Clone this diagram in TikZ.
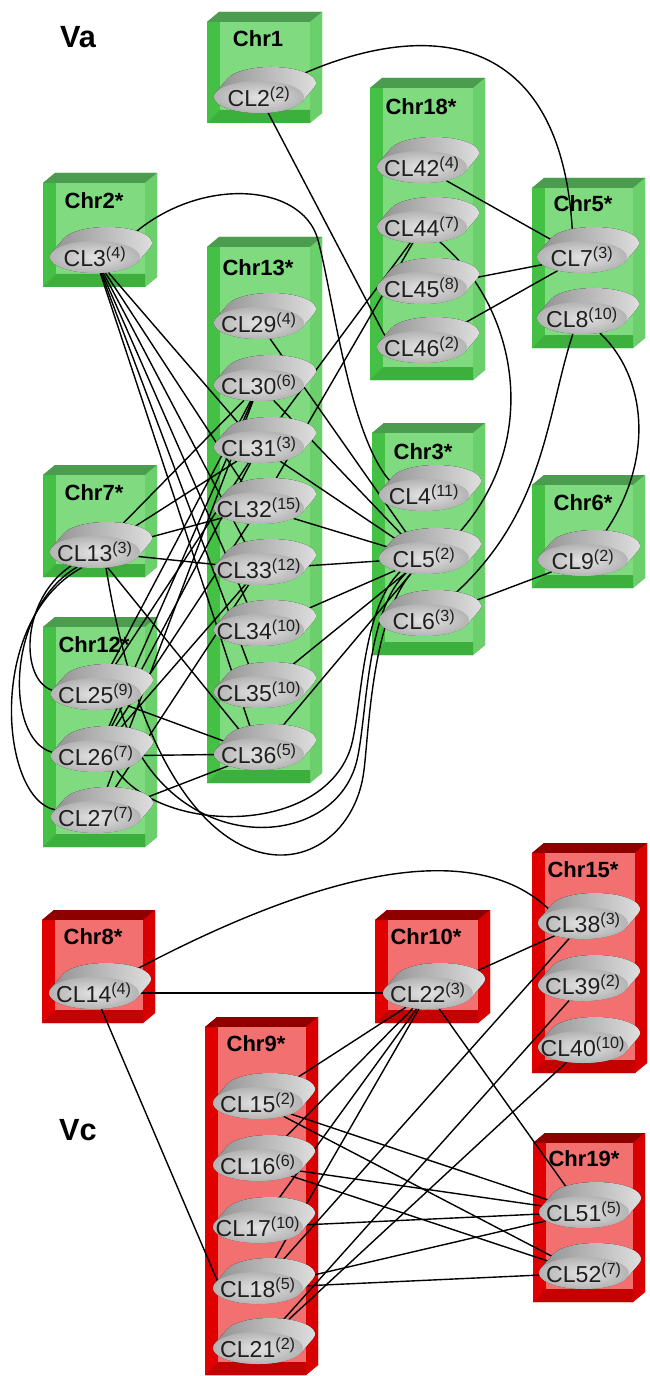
\documentclass[tikz,border=0pt]{standalone}
\usepackage{fontspec}
\setmainfont{Liberation Sans}
\usetikzlibrary{shapes.geometric}
\pgfdeclarelayer{bg}
\pgfdeclarelayer{edges}
\pgfsetlayers{bg,edges,main}
\definecolor{gOut}{HTML}{44C144}
\definecolor{gTop}{HTML}{4C9C50}
\definecolor{gRight}{HTML}{6BCF6B}
\definecolor{gPanel}{HTML}{80DA80}
\definecolor{gBot}{HTML}{3DAF3D}
\definecolor{rOut}{HTML}{E00000}
\definecolor{rTop}{HTML}{8E0000}
\definecolor{rRight}{HTML}{D80000}
\definecolor{rPanel}{HTML}{F27070}
\definecolor{rBot}{HTML}{C40000}
\definecolor{discL}{HTML}{8C8C8C}
\definecolor{discR}{HTML}{E2E2E2}
\definecolor{clIn}{HTML}{E4E4E4}
\definecolor{clOut}{HTML}{B4B4B4}
\tikzset{
  clshape/.style={ellipse, minimum width=67.5pt, minimum height=24pt, inner sep=0pt, inner color=clIn, outer color=clOut},
  cltext/.style={font=\fontsize{17.3}{18}\selectfont, text=black!88, inner sep=0pt},
  chrtitle/.style={font=\bfseries\fontsize{16.5}{17}\selectfont, inner sep=0pt},
  bigtitle/.style={font=\bfseries\fontsize{23}{24}\selectfont, inner sep=0pt},
  edge/.style={draw=black, line width=1.05pt},
  disc/.style={left color=discL, right color=discR},
}
\newcommand\chrbox[5]{%
  \fill[#1Out] (#2,#3+10) -- (#2+12,#3) -- (#4,#3) -- (#4,#5-10) -- (#4-12,#5) -- (#2,#5) -- cycle;
  \fill[#1Top] (#2,#3+10) -- (#2+12,#3) -- (#4,#3) -- (#4-12,#3+10) -- cycle;
  \fill[#1Right] (#4-12,#3+10) -- (#4,#3) -- (#4,#5-10) -- (#4-12,#5) -- cycle;
  \fill[#1Panel] (#2+13,#3+10) rectangle (#4-12,#5-13);
  \fill[#1Bot] (#2,#5) -- (#2+13,#5-13) -- (#4-12,#5-13) -- (#4-12,#5) -- cycle;
}
\newcommand\clnode[4]{%
  \fill[disc] (#2,#3) ++(-32.28pt,3.5pt) arc[start angle=163.05, end angle=343.05, x radius=33.75pt, y radius=12pt] -- ++(9pt,10.5pt) arc[start angle=-16.95, end angle=163.05, x radius=33.75pt, y radius=12pt] -- cycle;
  \node[clshape] (#1) at (#2,#3) {};
  \node[cltext] (#1t) at (#2,#3) {#1\textsuperscript{(#4)}};
}
\begin{document}
\begin{tikzpicture}[x=0.75pt,y=-0.75pt]
\useasboundingbox (0,0) rectangle (649,1376);
\begin{pgfonlayer}{bg}
\fill[white] (0,0) rectangle (649,1376);
\chrbox{g}{207}{12}{322}{123}
\chrbox{g}{43}{173}{157}{287}
\chrbox{g}{207}{237}{322}{783}
\chrbox{g}{370}{78}{485}{380}
\chrbox{g}{532}{178}{645}{348}
\chrbox{g}{43}{465}{157}{577}
\chrbox{g}{43}{617}{157}{847}
\chrbox{g}{372}{423}{485}{655}
\chrbox{g}{532}{475}{645}{588}
\chrbox{r}{42}{910}{155}{1023}
\chrbox{r}{375}{910}{490}{1023}
\chrbox{r}{532}{843}{647}{1073}
\chrbox{r}{205}{1017}{318}{1375}
\chrbox{r}{533}{1133}{645}{1302}
\end{pgfonlayer}
% titles
\node[bigtitle] (va) at (78,37) {Va};
\node[bigtitle] (vc) at (78,1130) {Vc};
\node[chrtitle] (t1) at (258,39) {Chr1};
\node[chrtitle] (t2) at (94,201) {Chr2*};
\node[chrtitle] (t13) at (258,268) {Chr13*};
\node[chrtitle] (t18) at (421,107) {Chr18*};
\node[chrtitle] (t5) at (583,204) {Chr5*};
\node[chrtitle] (t7) at (94,493) {Chr7*};
\node[chrtitle] (t12) at (94,645) {Chr12*};
\node[chrtitle] (t3) at (423,452) {Chr3*};
\node[chrtitle] (t6) at (583,503) {Chr6*};
\node[chrtitle] (t8) at (93,937) {Chr8*};
\node[chrtitle] (t10) at (426,937) {Chr10*};
\node[chrtitle] (t15) at (583,870) {Chr15*};
\node[chrtitle] (t9) at (256,1044) {Chr9*};
\node[chrtitle] (t19) at (584,1159) {Chr19*};
% cluster nodes
\clnode{CL2}{259}{97}{2}
\clnode{CL3}{95}{257}{4}
\clnode{CL42}{422}{167}{4}
\clnode{CL44}{422}{227}{7}
\clnode{CL45}{422}{288}{8}
\clnode{CL46}{422}{347}{2}
\clnode{CL7}{582}{257}{3}
\clnode{CL8}{582}{318}{10}
\clnode{CL29}{259}{323}{4}
\clnode{CL30}{259}{385}{6}
\clnode{CL31}{259}{447}{3}
\clnode{CL32}{259}{508}{15}
\clnode{CL33}{259}{569}{12}
\clnode{CL34}{259}{630}{10}
\clnode{CL35}{259}{692}{10}
\clnode{CL36}{259}{754}{5}
\clnode{CL13}{95}{552}{3}
\clnode{CL25}{96}{694}{9}
\clnode{CL26}{96}{756}{7}
\clnode{CL27}{96}{817}{7}
\clnode{CL4}{424}{495}{11}
\clnode{CL5}{424}{558}{2}
\clnode{CL6}{424}{620}{3}
\clnode{CL9}{583}{560}{2}
\clnode{CL14}{94}{993}{4}
\clnode{CL22}{428}{993}{3}
\clnode{CL38}{583}{923}{3}
\clnode{CL39}{583}{985}{2}
\clnode{CL40}{583}{1047}{10}
\clnode{CL15}{258}{1103}{2}
\clnode{CL16}{258}{1165}{6}
\clnode{CL17}{258}{1227}{10}
\clnode{CL18}{258}{1288}{5}
\clnode{CL21}{258}{1348}{2}
\clnode{CL51}{584}{1212}{5}
\clnode{CL52}{584}{1273}{7}
\begin{pgfonlayer}{edges}
% green curves
\draw[edge] (CL2.30) .. controls (410,20) and (565,15) .. (CL7.120);
\draw[edge] (CL2.-60) -- (CL46.165);
\draw[edge] (CL3.25) .. controls (190,175) and (302,180) .. (318,240) .. controls (334,300) and (350,440) .. (CL4.160);
\draw[edge] (CL44.-40) .. controls (520,310) and (545,450) .. (CL5.30);
\draw[edge] (CL8.-120) .. controls (545,420) and (545,520) .. (CL6.40);
\draw[edge] (CL8.-40) .. controls (650,380) and (655,470) .. (CL9.50);
\draw[edge] (CL26.-35) .. controls (165,835) and (320,835) .. (350,750) .. controls (362,715) and (360,610) .. (CL5.-150);
\draw[edge] (CL25.-30) .. controls (165,860) and (335,855) .. (357,760) .. controls (367,718) and (366,610) .. (CL5.-140);
\draw[edge] (CL13.-55) .. controls (165,930) and (350,890) .. (364,770) .. controls (369,730) and (372,620) .. (CL5.-130);
% CL13 left loops
\draw[edge] (CL13.-150) .. controls (20,600) and (20,680) .. (CL25.175);
\draw[edge] (CL13.-140) .. controls (5,610) and (5,740) .. (CL26.175);
\draw[edge] (CL13.-130) .. controls (-15,620) and (0,800) .. (CL27.170);
% green straight
\foreach \t in {CL31,CL32,CL33,CL34,CL35,CL36} \draw[edge] (CL3) -- (\t);
\foreach \s in {CL42,CL45,CL46} \draw[edge] (\s) -- (CL7);
\draw[edge] (CL44) -- (CL31);
\draw[edge] (CL44) -- (CL32);
\draw[edge] (CL9) -- (CL6);
\foreach \s in {CL29,CL30,CL31,CL32,CL33,CL34,CL35,CL36} \draw[edge] (\s) -- (CL5);
\foreach \t in {CL30,CL31,CL32,CL33,CL36} \draw[edge] (CL13) -- (\t);
\foreach \t in {CL30,CL31,CL36} \draw[edge] (CL25) -- (\t);
\foreach \t in {CL30,CL31,CL32,CL33,CL36} \draw[edge] (CL26) -- (\t);
\foreach \t in {CL30,CL33,CL36} \draw[edge] (CL27) -- (\t);
% red
\draw[edge] (CL14.30) .. controls (300,880) and (470,830) .. (CL38.160);
\draw[edge] (CL14) -- (CL22);
\draw[edge] (CL14.-65) -- (CL18.170);
\draw[edge] (CL22) -- (CL38);
\foreach \t in {CL15,CL16,CL17,CL18,CL51} \draw[edge] (CL22) -- (\t);
\draw[edge] (CL38) -- (CL18);
\draw[edge] (CL39) -- (CL21);
\draw[edge] (CL40) -- (CL21);
\foreach \t in {CL51,CL52} \draw[edge] (CL15) -- (\t);
\foreach \t in {CL51,CL52} \draw[edge] (CL16) -- (\t);
\draw[edge] (CL17) -- (CL51);
\foreach \t in {CL51,CL52} \draw[edge] (CL18) -- (\t);
\end{pgfonlayer}
\end{tikzpicture}
\end{document}
